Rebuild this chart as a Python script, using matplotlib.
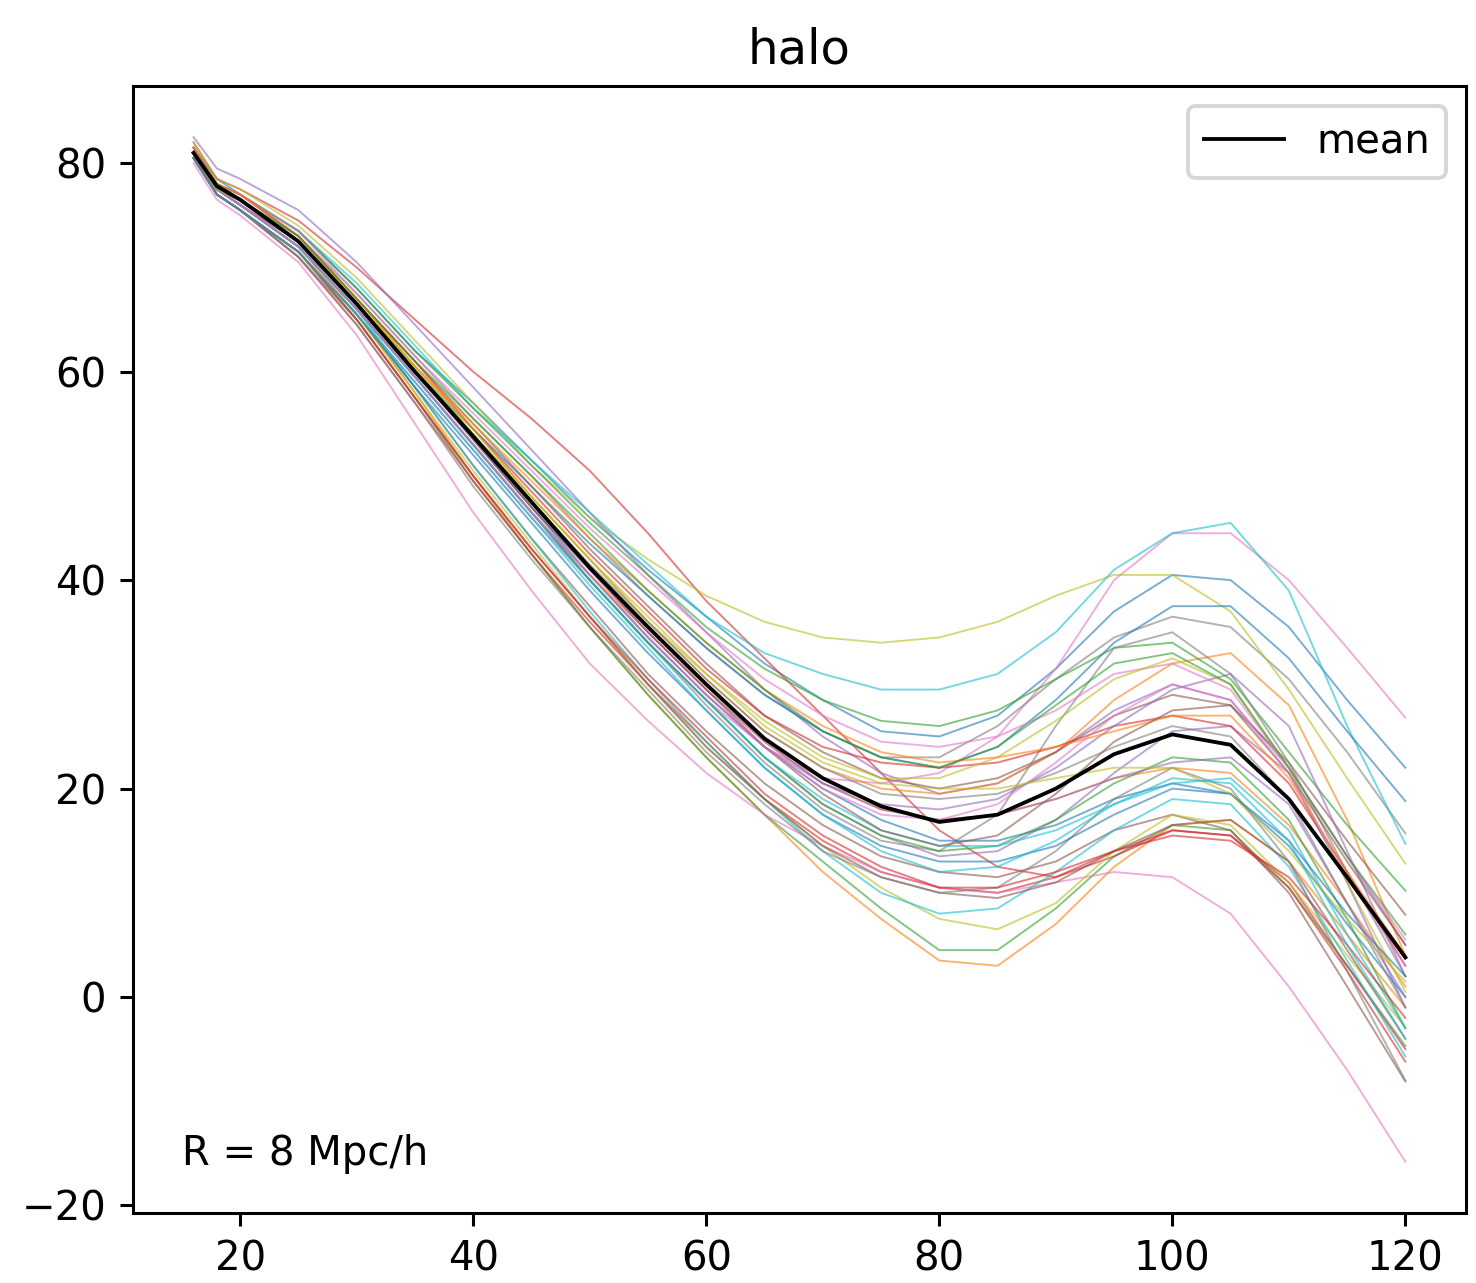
import matplotlib

matplotlib.use("Agg")
import matplotlib.pyplot as plt
import numpy as np

r = [16, 18, 20, 25, 30, 35, 40, 45, 50, 55, 60, 65, 70, 75, 80, 85, 90, 95, 100, 105, 110, 115, 120]

mean = [81.0, 77.8, 76.5, 72.5, 66.5, 60.0, 53.8, 47.5, 41.2, 35.5, 30.0, 24.8, 21.0, 18.3,
        16.8, 17.5, 20.0, 23.3, 25.2, 24.2, 19.0, 11.5, 3.8]

realizations = [
    [81.5, 78.5, 77, 73.5, 68, 62, 57, 51.5, 46, 41, 36.5, 32, 28.5, 25.5, 25, 27, 31.5, 37, 40.5, 40, 35.5, 28.5, 22],
    [81, 77.5, 76, 72, 65.5, 58, 50, 42.5, 35.5, 29, 23, 17.5, 12, 7.5, 3.5, 3, 7, 12.5, 16.5, 17, 13, 6, -1],
    [80.5, 77, 75.5, 71.5, 65, 57.5, 49.5, 42.5, 35.5, 29, 23, 17.5, 13, 8.5, 4.5, 4.5, 8.5, 13.5, 16.5, 16, 10.5, 3, -4.7],
    [82, 78.5, 77.5, 74.5, 70, 65, 60, 55.5, 50.5, 44.5, 38, 32.5, 27, 21.5, 16, 12.5, 11.5, 13.5, 16, 15.5, 10.5, 2.5, -6.2],
    [82.5, 79.5, 78.5, 75.5, 70.5, 64.5, 58.5, 52.5, 46.5, 40.5, 35, 29.5, 25, 21.5, 19.5, 20.5, 23.5, 27.5, 30, 28.5, 22, 13.5, 5],
    [80.5, 77, 75.5, 71.5, 65.5, 58.5, 51, 44, 37.5, 31, 25.5, 20.5, 16.5, 13.5, 12, 11.5, 13, 16, 17.5, 16, 10, 1, -8.1],
    [81, 77.5, 76, 72, 66, 59.5, 53, 46.5, 40, 34, 28.5, 24, 21, 20.5, 21.5, 25, 31.5, 40, 44.5, 44.5, 40, 33.5, 26.8],
    [81.5, 78, 77, 73, 67.5, 61.5, 55.5, 50, 44, 38.5, 33.5, 29, 25.5, 23, 23, 26, 30.5, 34.5, 36.5, 35.5, 30.5, 23.5, 15.7],
    [82, 78.5, 77.5, 74, 69, 63, 57, 51, 46, 42, 38.5, 36, 34.5, 34, 34.5, 36, 38.5, 40.5, 40.5, 37, 29.5, 21, 12.8],
    [81.5, 78, 77, 73.5, 68.5, 62.5, 56.5, 51.5, 46.5, 41.5, 36.5, 33, 31, 29.5, 29.5, 31, 35, 41, 44.5, 45.5, 39, 26, 14.7],
    [81, 77.5, 76.5, 72.5, 66.5, 60, 54.5, 49, 43.5, 38.5, 33.5, 29, 25.5, 23, 22, 24, 28.5, 34, 37.5, 37.5, 32.5, 25.5, 18.8],
    [81, 77.5, 76, 72.5, 66.5, 60.5, 54.5, 48, 42, 36, 30.5, 25.5, 22, 20, 19.5, 20.5, 23.5, 28.5, 32, 33, 28, 17, 4],
    [81.5, 78, 77, 73.5, 68, 62, 56.5, 51, 45.5, 40.5, 35.5, 31.5, 28.5, 26.5, 26, 27.5, 30.5, 33.5, 34, 30.5, 23.5, 16.5, 10.2],
    [80.5, 77, 75.5, 71, 64.5, 57, 49.5, 42.5, 36, 30, 24.5, 19, 15, 12, 10.5, 10, 11.5, 14, 16, 15.5, 11, 3, -5],
    [80.5, 77, 75.5, 71.5, 65.5, 59, 52.5, 46, 40, 34, 28.5, 23, 18.5, 15.5, 13.5, 14, 17, 21.5, 25.5, 26, 21.5, 11, -1],
    [81, 78, 76.5, 73, 67, 61, 55, 49, 43, 37.5, 32, 27, 23.5, 21, 20, 21, 23.5, 27, 29, 28, 22.5, 15, 7.9],
    [80, 76.5, 75, 70.5, 63.5, 55, 46.5, 39, 32, 26.5, 21.5, 17.5, 14.5, 12, 10.5, 10, 11, 12, 11.5, 8, 1, -7, -15.8],
    [81, 77.5, 76, 72, 66, 59.5, 53, 46.5, 40, 34, 28, 22.5, 18, 15, 14, 17.5, 26, 33.5, 35, 31, 22.5, 12, 2],
    [80.5, 77, 75.5, 71.5, 65.5, 58, 50.5, 43.5, 36.5, 30, 24, 19, 14.5, 10.5, 7.5, 6.5, 9, 14, 17.5, 16.5, 11, 4, -2.9],
    [81, 77.5, 76, 72, 66, 58.5, 51, 44, 37, 30.5, 24.5, 19, 14, 10, 8, 8.5, 12, 16, 19, 18.5, 12.5, 3.5, -5.7],
    [81, 77.5, 76.5, 72.5, 66.5, 60, 53.5, 47, 40.5, 34.5, 29, 24, 20, 17, 15, 15, 16.5, 19, 20.5, 19.5, 14.5, 7, 0],
    [80.5, 77.5, 76, 72, 66, 59.5, 53, 46.5, 40.5, 35, 29.5, 24.5, 20.5, 18, 17, 17.5, 19, 21, 22, 21.5, 16.5, 9, 1],
    [81, 77.5, 76, 72, 66, 59.5, 53, 46.5, 40, 34, 28.5, 23, 18.5, 15.5, 14, 14.5, 17, 20.5, 23, 22.5, 17, 7.5, -3],
    [81.5, 78, 77, 73, 67, 61, 54.5, 48.5, 42.5, 37, 31.5, 27, 24, 22.5, 22, 22.5, 24, 26, 27, 26, 20.5, 12, 3],
    [81, 77.5, 76, 72, 66, 59.5, 53, 46.5, 40.5, 34.5, 29, 24, 20.5, 18.5, 18, 19, 22, 26, 29.5, 31, 26, 14, 2],
    [80.5, 77, 75.5, 71, 65, 57.5, 50, 43, 36.5, 30, 24, 19, 14.5, 11.5, 10, 9.5, 11, 14, 16.5, 17, 13, 4.5, -4],
    [81.5, 78, 77, 73.5, 67.5, 61.5, 56, 50.5, 45, 40, 35, 30.5, 27, 24.5, 24, 25, 27.5, 31, 32, 29.5, 22, 13.5, 5.5],
    [80.5, 77, 75.5, 71, 64.5, 57, 49, 42, 35.5, 29.5, 23.5, 18.5, 14, 11.5, 10, 10.5, 14, 19, 22, 20, 13, 2.5, -8],
    [81, 77.5, 76.5, 72.5, 67, 60.5, 54.5, 48, 42, 36, 31, 26.5, 23, 21, 21, 23, 26.5, 30.5, 32.5, 30, 22, 11, 0.5],
    [81, 77.5, 76, 72, 66, 59.5, 53, 46.5, 40, 34, 28.5, 23, 19, 16, 14.5, 14.5, 16, 18.5, 20.5, 21, 16, 6, -3],
    [80.5, 77, 75.5, 71.5, 65.5, 58.5, 52, 45.5, 39, 33, 27.5, 22, 17.5, 14.5, 13, 13, 14.5, 17.5, 20, 19.5, 15, 8, 2],
    [81.5, 78, 77, 73, 67, 60.5, 55, 49.5, 44, 39, 34, 29.5, 26, 23.5, 22.5, 23, 24, 25.5, 27, 27, 21, 12, 4],
    [81, 78, 76.5, 73, 67, 61, 55.5, 50, 44.5, 39, 34, 29.5, 25.5, 23, 22, 24, 28, 32, 33, 30, 22, 13.5, 6],
    [80.5, 77, 75.5, 71.5, 65, 57.5, 50, 43, 36.5, 30.5, 25, 19.5, 15.5, 12.5, 10.5, 10.5, 12, 14, 15.5, 15, 11.5, 5, -2],
    [81, 77.5, 76, 72.5, 66.5, 60, 53.5, 47, 41, 35, 29.5, 24.5, 20.5, 18, 17, 17.5, 19, 21, 22.5, 23, 18.5, 9, 0],
    [81, 77.5, 76.5, 72.5, 66.5, 60, 53.5, 47, 41, 35, 29.5, 24, 19.5, 16, 14.5, 15.5, 19.5, 24.5, 27.5, 28, 21.5, 13, 5],
    [81, 77.5, 76, 72, 66, 59.5, 53, 46.5, 40.5, 34.5, 29, 24, 20, 17.5, 17, 18.5, 22.5, 27, 30, 28.5, 21.5, 11.5, 3],
    [81, 77.5, 76.5, 72.5, 66.5, 60, 54, 47.5, 41.5, 36, 30.5, 25.5, 22, 19.5, 19, 19.5, 21.5, 24, 26, 25, 19, 9, -1],
    [81, 77.5, 76.5, 72.5, 66.5, 60.5, 54, 48, 42, 36.5, 31, 26, 22.5, 20.5, 20, 20, 21, 22, 22, 19.5, 14, 7.5, 1.5],
    [80.5, 77, 75.5, 71.5, 65.5, 59, 52.5, 46, 39.5, 33.5, 27.5, 22, 17.5, 14, 12, 12.5, 15, 18.5, 21, 20.5, 15, 5, -4],
]

plt.rcParams["font.size"] = 10.5

fig, ax = plt.subplots(figsize=(1476 / 275, 1283 / 275), dpi=275)
fig.subplots_adjust(left=0.0901, right=0.9932, bottom=0.0546, top=0.933)

for curve in realizations:
    ax.plot(r, curve, lw=0.5, alpha=0.6)
ax.plot(r, mean, color="k", lw=1.0, label="mean")

ax.text(0.037, 0.035, "R = 8 Mpc/h", transform=ax.transAxes, va="bottom", ha="left")
ax.set_title("halo")
ax.legend(loc="upper right")
ax.set_xticks([20, 40, 60, 80, 100, 120])
ax.set_yticks([-20, 0, 20, 40, 60, 80])

fig.savefig("out.png", dpi=275)
